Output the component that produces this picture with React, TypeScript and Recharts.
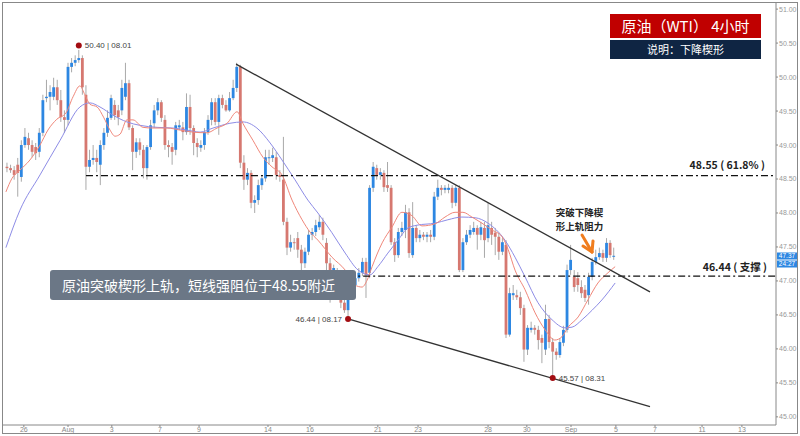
import React from 'react';
import { ComposedChart, Bar, Line, XAxis, YAxis, ReferenceLine, ReferenceDot } from 'recharts';

// ---- 4h candles (WTI) ----
const opens = [48.68,48.66,48.63,48.71,48.53,49.00,49.10,49.00,48.97,48.90,
49.18,49.69,49.71,49.71,49.85,49.66,49.41,49.37,50.15,50.21,
50.25,50.28,49.74,48.68,48.78,48.81,48.71,49.00,49.18,49.40,
49.59,49.51,49.51,49.71,49.91,49.25,48.90,49.04,48.93,48.66,
48.97,49.32,49.51,49.63,49.37,49.00,48.97,48.93,49.26,49.26,
49.19,49.56,49.25,49.03,48.96,49.00,49.19,49.37,49.63,49.34,
49.69,49.59,49.51,49.69,49.84,50.15,48.74,48.49,48.59,48.15,
48.19,48.41,48.51,48.81,48.81,48.82,48.56,48.49,47.87,47.49,
47.57,47.63,47.46,47.26,47.43,47.68,47.72,47.79,47.87,47.56,
47.26,47.16,47.13,46.91,46.68,46.57,46.87,46.94,47.04,47.12,
47.28,47.12,48.37,48.66,48.56,48.59,48.41,48.37,47.57,47.38,
47.72,47.75,48.01,47.38,47.78,47.63,47.68,47.65,47.68,47.65,
48.24,48.37,48.34,48.34,48.37,48.15,48.37,47.16,47.57,47.68,
47.72,47.78,47.68,47.78,47.63,47.78,47.71,47.65,47.43,47.53,
46.21,46.79,46.79,46.76,46.60,45.99,46.28,46.31,46.28,46.16,
45.99,46.44,46.10,45.96,45.91,46.09,46.28,47.16,47.06,47.04,
46.91,46.87,46.79,47.06,47.28,47.35,47.41,47.34,47.56,47.36];
const closes = [48.66,48.63,48.56,48.59,49.00,49.12,49.00,48.90,48.88,49.18,
49.66,49.71,49.78,49.85,49.66,49.41,49.37,50.15,50.21,50.25,
50.28,49.85,48.68,48.78,48.81,48.75,49.00,49.18,49.40,49.69,
49.44,49.41,49.84,49.91,49.26,48.90,49.04,48.93,48.66,48.97,
49.29,49.51,49.63,49.40,49.00,48.97,48.90,49.29,49.29,49.19,
49.56,49.25,49.03,48.97,49.00,49.19,49.37,49.63,49.34,49.69,
49.59,49.51,49.69,49.84,50.15,48.74,48.49,48.59,48.15,48.19,
48.41,48.51,48.82,48.82,48.85,48.56,48.53,47.87,47.49,47.57,
47.56,47.46,47.26,47.43,47.68,47.72,47.82,47.87,47.68,47.26,
47.16,47.19,47.06,46.68,46.57,46.87,46.94,47.04,47.12,47.28,
47.09,48.37,48.68,48.56,48.60,48.38,48.37,47.57,47.38,47.72,
47.78,48.01,47.41,47.78,47.63,47.68,47.65,47.68,47.65,48.24,
48.37,48.34,48.37,48.37,48.15,48.37,47.16,47.57,47.68,47.75,
47.78,47.68,47.79,47.60,47.82,47.68,47.65,47.43,47.57,46.21,
46.82,46.82,46.76,46.60,45.99,46.31,46.31,46.28,46.13,46.09,
46.44,46.10,45.96,45.91,46.10,46.28,47.16,47.31,46.91,46.94,
46.82,46.75,47.06,47.28,47.35,47.41,47.34,47.56,47.38,47.37];
const highs = [48.74,48.71,48.69,48.81,49.07,49.25,49.18,49.07,49.03,49.25,
49.74,49.96,49.88,49.99,49.96,49.81,49.51,50.21,50.28,50.32,
50.40,50.32,49.88,48.93,49.00,48.93,49.07,49.25,49.51,49.74,
49.66,49.59,49.96,50.21,49.96,49.29,49.10,49.10,49.00,49.00,
49.37,49.59,49.69,49.66,49.44,49.07,49.03,49.34,49.37,49.34,
49.76,49.74,49.29,49.10,49.07,49.25,49.44,49.69,49.69,49.74,
49.74,49.66,49.78,49.96,50.21,50.18,48.85,48.66,48.63,48.26,
48.49,48.56,48.93,48.93,48.96,48.90,48.63,49.12,47.93,47.68,
47.63,47.72,47.53,47.49,47.75,47.78,47.90,47.97,47.93,47.63,
47.34,47.24,47.19,46.99,46.75,46.94,47.01,47.13,47.19,47.34,
47.34,48.41,48.75,48.71,48.66,48.63,48.75,48.41,47.63,47.78,
47.87,48.12,48.07,48.16,47.82,47.75,47.72,47.72,47.75,48.31,
48.49,48.41,48.41,48.43,48.41,48.41,48.41,47.63,47.75,47.82,
47.87,47.82,47.87,47.87,48.15,47.87,47.78,47.71,47.63,47.60,
46.90,46.94,46.87,46.84,46.65,46.35,46.40,46.35,46.34,46.21,
46.65,46.50,46.16,46.01,46.16,46.34,47.24,47.53,47.16,47.13,
47.01,46.94,47.12,47.34,47.46,47.49,47.46,47.63,47.60,47.49];
const lows = [48.60,48.59,48.49,48.24,48.46,48.96,48.93,48.82,48.78,48.82,
49.13,49.63,49.51,49.66,49.59,49.34,49.18,49.29,50.07,50.16,
50.21,49.74,48.34,48.60,48.71,48.60,48.41,48.93,49.12,49.37,
49.37,49.29,49.44,49.66,49.22,48.63,48.81,48.85,48.51,48.49,
48.93,49.25,49.44,49.34,48.93,48.82,48.71,48.85,49.22,49.07,
49.15,49.15,48.85,48.82,48.90,48.93,49.15,49.29,49.29,49.15,
49.54,49.49,49.49,49.66,49.78,48.66,48.34,48.41,48.07,48.00,
48.12,48.34,48.46,48.71,48.75,48.49,48.46,47.82,47.38,47.43,
47.46,47.34,47.09,47.19,47.38,47.60,47.66,47.75,47.60,47.16,
46.68,47.09,46.94,46.60,46.53,46.44,46.79,46.87,46.99,47.07,
46.75,47.04,48.31,48.49,48.49,48.31,48.31,47.53,47.28,47.34,
47.66,47.63,47.34,47.34,47.57,47.57,47.60,47.57,47.57,47.60,
48.19,48.26,48.29,48.29,48.07,48.10,47.13,47.13,47.53,47.63,
47.68,47.46,47.60,47.34,47.57,47.53,47.38,47.31,47.38,46.16,
46.18,46.72,46.72,46.50,45.81,45.91,46.24,46.21,45.99,45.79,
45.91,46.01,45.57,45.84,45.87,46.04,46.24,47.09,46.84,46.84,
46.75,46.69,46.65,47.01,47.24,47.31,47.28,47.28,47.34,47.31];

// ---- moving averages (candle index, price) ----
const maFastIdx = [-0.3,1.4,3.6,6.4,9.2,11.4,13.9,16.4,18.4,20.3,21.7,23.1,25.1,27.0,28.7,30.1,31.5,33.4,35.1,37.9,40.7,44.6,48.2,51.8,55.7,58.5,61.3,64.1,65.7,68.5,71.3,73.8,76.6,79.4,82.2,84.4,86.6,90.5,94.2,96.9,98.9,100.3,101.7,104.5,107.2,110.0,112.8,115.6,119.2,122.0,124.8,127.0,129.5,132.3,135.1,137.9,139.6,141.5,144.3,147.1,149.9,152.6,154.6,156.3,159.1,161.8,164.6,167.4,169.4];
const maFastVal = [48.31,48.51,48.63,48.78,49.00,49.22,49.38,49.47,49.71,49.87,49.74,49.60,49.56,49.40,49.22,49.13,49.16,49.37,49.37,49.26,49.25,49.25,49.22,49.19,49.18,49.25,49.32,49.49,49.32,49.07,48.82,48.68,48.56,48.19,47.90,47.72,47.60,47.35,47.16,46.94,46.91,47.01,47.21,47.56,47.79,48.01,47.96,47.81,47.84,47.94,48.01,48.01,47.94,47.85,47.75,47.65,47.46,47.16,46.87,46.53,46.28,46.13,46.18,46.32,46.47,46.72,46.97,47.12,47.21];
const maSlowIdx = [-0.3,3.6,9.2,14.8,20.3,23.1,25.9,29.5,33.4,37.0,41.8,46.2,50.1,53.8,57.4,62.1,65.7,69.6,73.3,76.6,80.2,83.8,86.6,90.5,94.2,97.8,101.1,103.3,106.1,108.9,111.7,114.2,119.2,122.8,126.7,130.4,134.0,138.7,141.5,144.3,147.9,151.8,155.4,157.4,160.2,163.0,165.7,169.4];
const maSlowVal = [47.49,48.04,48.56,49.07,49.56,49.62,49.56,49.44,49.34,49.29,49.26,49.25,49.22,49.19,49.25,49.32,49.34,49.25,49.03,48.78,48.49,48.19,48.00,47.71,47.41,47.16,47.09,47.21,47.41,47.60,47.78,47.82,47.85,47.90,47.94,47.93,47.85,47.60,47.35,47.06,46.68,46.43,46.31,46.32,46.43,46.57,46.72,46.97];

// ---- axes ----
const xTickPos = [4.7,17.0,29.2,42.6,53.5,72.7,84.4,103.3,114.5,134.0,144.8,157.1,169.6,180.5,193.6,204.7];
const xTickLabels = ['26','Aug','3','7','9','14','16','21','23','28','30','Sep','5','7','11','13'];
const yTicks = [45,45.5,46,46.5,47,47.5,48,48.5,49,49.5,50,50.5,51];
const xDomain = [-1.11, 214.2];
const yDomain = [44.88, 51.09];

// ---- annotations ----
const upperRail = [[63.8, 50.19], [179.1, 46.84]];
const lowerRail = [[95, 46.44], [179.1, 45.15]];
const resistanceLevel = 48.55;
const resistanceStart = 22.0;
const supportLevel = 47.07;
const supportStart = 82.5;
const markerIdx = [20, 95, 152];
const markerVal = [50.40, 46.44, 45.57];
const markerText = ['50.40 | 08.01', '46.44 | 08.17', '45.57 | 08.31'];
const markerSide = ['right', 'left', 'right'];
const markerLift = [4.5, 0, 0];

const candles = opens.map((o, i) => ({ i, o, h: highs[i], l: lows[i], c: closes[i], range: [lows[i], highs[i]] }));
const maFast = maFastIdx.map((i, k) => ({ i, v: maFastVal[k] }));
const maSlow = maSlowIdx.map((i, k) => ({ i, v: maSlowVal[k] }));

const BLUE = '#2d87e2';
const RED = '#d67870';
const CJK = '"Noto Sans CJK SC", "Liberation Sans", sans-serif';
const LAT = '"Liberation Sans", Arial, sans-serif';

const Candle = (props: any) => {
  const { x, y, width, height, payload } = props;
  if (!payload || x == null) return null;
  const { o, h, l, c } = payload;
  const top = Math.min(y, y + height);
  const hh = Math.abs(height);
  const ppu = hh / ((h - l) || 1);
  const cx = x + width / 2;
  const bt = top + (h - Math.max(o, c)) * ppu;
  const bb = top + (h - Math.min(o, c)) * ppu;
  const up = c >= o;
  return (
    <g>
      <line x1={cx} x2={cx} y1={top} y2={top + hh} stroke="#a9a9a9" strokeWidth={1} />
      <rect x={cx - 1.4} y={bt} width={2.8} height={Math.max(1, bb - bt)} fill={up ? BLUE : RED} />
    </g>
  );
};

const makeDot = (k: number) => (p: any) => (
  <circle cx={p.cx} cy={p.cy - markerLift[k]} r={3} fill="#a30d12" />
);

const makeLabel = (k: number) => (p: any) => {
  const vb = p.viewBox || {};
  const cx = vb.x + vb.width / 2;
  const cy = vb.y + vb.height / 2 - markerLift[k];
  const right = markerSide[k] === 'right';
  return (
    <text x={right ? cx + 6 : cx - 6} y={cy + 3} textAnchor={right ? 'start' : 'end'}
      fontSize={8} fill="#444" fontFamily={LAT}>{markerText[k]}</text>
  );
};

export default function App() {
  return (
    <div style={{ position: 'absolute', left: 0, top: 0, width: 800, height: 436, background: '#fff' }}>
      <ComposedChart width={800} height={436} data={candles}
        margin={{ top: 3, right: 0, bottom: 0, left: 3 }}>
        <XAxis dataKey="i" type="number" domain={xDomain} allowDataOverflow ticks={xTickPos}
          interval={0} tickFormatter={(_v: any, idx: number) => xTickLabels[idx]}
          height={11} tickSize={2} tickMargin={0} stroke="#888"
          tick={{ fontSize: 7, fill: '#888', fontFamily: LAT }} />
        <YAxis type="number" orientation="right" domain={yDomain} allowDataOverflow ticks={yTicks}
          width={24} tickSize={2} tickMargin={1} stroke="#888"
          tickFormatter={(v: number) => v.toFixed(2)}
          tick={{ fontSize: 7, fill: '#999', fontFamily: LAT }} />
        <Bar dataKey="range" barSize={3} shape={Candle} isAnimationActive={false} />
        <Line data={maSlow} dataKey="v" type="monotone" stroke="#8d8ce6" strokeWidth={1}
          dot={false} activeDot={false} isAnimationActive={false} />
        <Line data={maFast} dataKey="v" type="monotone" stroke="#f0877a" strokeWidth={1}
          dot={false} activeDot={false} isAnimationActive={false} />
        <ReferenceLine segment={[{ x: resistanceStart, y: resistanceLevel }, { x: xDomain[1], y: resistanceLevel }]}
          stroke="#111" strokeWidth={1.3} strokeDasharray="7 3 2 3" />
        <ReferenceLine segment={[{ x: supportStart, y: supportLevel }, { x: xDomain[1], y: supportLevel }]}
          stroke="#111" strokeWidth={1.3} strokeDasharray="7 3 2 3" />
        <ReferenceLine segment={[{ x: upperRail[0][0], y: upperRail[0][1] }, { x: upperRail[1][0], y: upperRail[1][1] }]}
          stroke="#333" strokeWidth={1.3} />
        <ReferenceLine segment={[{ x: lowerRail[0][0], y: lowerRail[0][1] }, { x: lowerRail[1][0], y: lowerRail[1][1] }]}
          stroke="#333" strokeWidth={1.3} />
        {markerIdx.map((mi, k) => (
          <ReferenceDot key={k} x={mi} y={markerVal[k]} r={3} shape={makeDot(k)} label={makeLabel(k)} />
        ))}
      </ComposedChart>

      <svg width={800} height={436} style={{ position: 'absolute', left: 0, top: 0, pointerEvents: 'none' }}>
        <rect x={2.5} y={2.5} width={795} height={431} fill="none" stroke="#888" strokeWidth={1} />
        {/* title */}
        <rect x={610} y={14} width={151} height={24} fill="#c00000" />
        <text x={685.5} y={32} textAnchor="middle" fill="#fff" fontSize={15} fontFamily={CJK}>原油（WTI） 4小时</text>
        <rect x={610} y={40} width={151} height={19} fill="#0f2543" />
        <text x={685.5} y={54} textAnchor="middle" fill="#fff" fontSize={11} fontFamily={CJK}>说明：下降楔形</text>
        {/* level labels */}
        <text x={765} y={169} textAnchor="end" fill="#222" fontSize={10.5} fontWeight="bold" fontFamily={CJK}>48.55 ( 61.8% )</text>
        <text x={767} y={271} textAnchor="end" fill="#222" fontSize={10.5} fontWeight="bold" fontFamily={CJK}>46.44 ( 支撑 )</text>
        {/* note box */}
        <rect x={50} y={270} width={306} height={30} rx={3} fill="#6b7786" />
        <text x={62} y={291} fill="#fff" fontSize={14} fontFamily={CJK}>原油突破楔形上轨，短线强阻位于48.55附近</text>
        {/* breakout note */}
        <text x={579.5} y={215.5} textAnchor="middle" fill="#222" fontSize={9.5} fontWeight="bold" fontFamily={CJK}>突破下降楔</text>
        <text x={579.5} y={229.5} textAnchor="middle" fill="#222" fontSize={9.5} fontWeight="bold" fontFamily={CJK}>形上轨阻力</text>
        <g stroke="#f07d1e" strokeWidth={3} strokeLinecap="round" fill="none">
          <line x1={582} y1={235} x2={592} y2={252} />
          <line x1={592} y1={252} x2={593} y2={241} />
          <line x1={592} y1={252} x2={583} y2={246} />
        </g>
        {/* last price tags */}
        <rect x={777} y={252.5} width={20} height={7} fill={BLUE} />
        <text x={787} y={258.2} textAnchor="middle" fill="#fff" fontSize={6.5} fontFamily={LAT}>47.37</text>
        <rect x={777} y={260.5} width={20} height={7} fill={BLUE} />
        <text x={787} y={266.2} textAnchor="middle" fill="#fff" fontSize={6.5} fontFamily={LAT}>24:27</text>
      </svg>
    </div>
  );
}
